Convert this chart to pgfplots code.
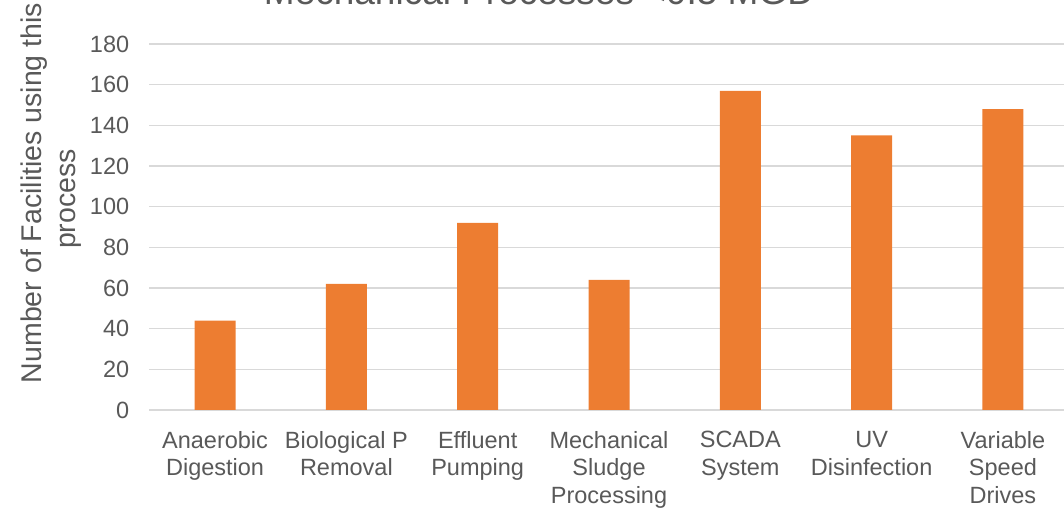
\documentclass[border=0pt]{standalone}
\usepackage{fontspec}
\setmainfont{Liberation Sans}
\usepackage{pgfplots}
\pgfplotsset{compat=1.18}

\definecolor{barorange}{HTML}{ED7D31}
\definecolor{labelgray}{HTML}{595959}
\definecolor{gridgray}{HTML}{D9D9D9}

\begin{document}
\begin{tikzpicture}[x=1pt,y=1pt]
  \useasboundingbox (0,0) rectangle (1064,508);
  \clip (0,0) rectangle (1064,508);

  \begin{axis}[
      at={(149.4pt,98pt)}, anchor=south west,
      scale only axis,
      width=919.2pt, height=366pt,
      xmin=-0.5, xmax=6.5,
      ymin=0, ymax=180,
      ytick={0,20,...,180},
      xtick={0,...,6},
      xticklabels={{Anaerobic\\Digestion},{Biological P\\Removal},{Effluent\\Pumping},{Mechanical\\Sludge\\Processing},{SCADA\\System},{UV\\Disinfection},{Variable\\Speed\\Drives}},
      /pgf/number format/assume math mode=true,
      ymajorgrids,
      grid style={draw=gridgray, line width=1.3pt},
      axis line style={draw=none},
      major tick length=0pt,
      tick style={draw=none},
      yticklabel style={font=\fontsize{23.5}{27.7}\selectfont, text=labelgray,
                        anchor=east, inner sep=0pt, xshift=-20pt},
      xticklabel style={font=\fontsize{23.5}{27.7}\selectfont, text=labelgray,
                        align=center, anchor=north, inner sep=0pt, yshift=-21pt},
      ybar, bar width=41pt, bar shift=0pt,
      clip=false,
    ]
    \addplot[fill=barorange, draw=none] coordinates {
      (0,44) (1,62) (2,92) (3,64) (4,157) (5,135) (6,148)
    };
  \end{axis}

  % chart title
  \node[anchor=base, text=labelgray, inner sep=0pt,
        font=\fontsize{37}{44}\selectfont] at (539,503.5)
    {Mechanical Processes <0.5 MGD};

  % y axis title, two lines
  \node[anchor=base, rotate=90, text=labelgray, inner sep=0pt,
        font=\fontsize{28.5}{34}\selectfont] at (41,315)
    {Number of Facilities using this};
  \node[anchor=base, rotate=90, text=labelgray, inner sep=0pt,
        font=\fontsize{28.5}{34}\selectfont] at (75.7,309)
    {process};
\end{tikzpicture}
\end{document}
